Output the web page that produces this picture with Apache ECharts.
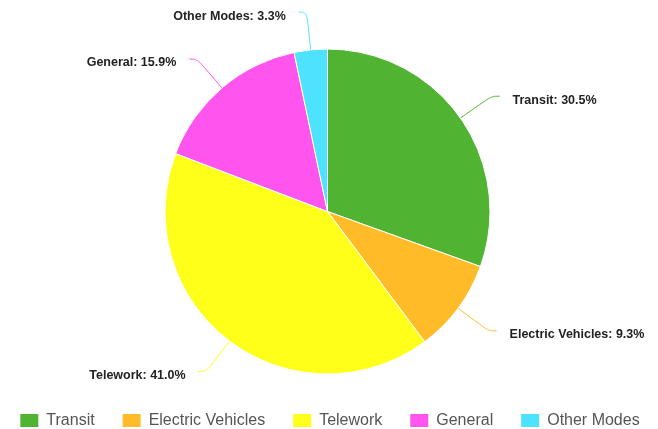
<!DOCTYPE html>
<html>
<head>
<meta charset="utf-8">
<script src="https://cdn.jsdelivr.net/npm/echarts@6/dist/echarts.min.js"></script>
<style>
html,body{margin:0;padding:0;background:#fff;}
#chart{width:658px;height:429px;}
</style>
</head>
<body>
<div id="chart"></div>
<script>
const categories = ['Transit', 'Electric Vehicles', 'Telework', 'General', 'Other Modes'];
const values = [30.5, 9.3, 41.0, 15.9, 3.3];
const colors = ['#50B432', '#FFBB28', '#FFFF1A', '#FF55EE', '#4DE3FF'];

const chart = echarts.init(document.getElementById('chart'));
chart.setOption({
  animation: false,
  color: colors,
  legend: {
    top: 412,
    left: 'center',
    padding: 0,
    icon: 'rect',
    itemWidth: 20,
    itemHeight: 15,
    itemGap: 26,
    textStyle: { fontFamily: 'Liberation Sans', fontSize: 16, color: '#555', padding: [0, 0, 0, 2] },
    data: categories
  },
  series: [{
    type: 'pie',
    center: [327.5, 211.5],
    radius: 162.5,
    startAngle: 90,
    clockwise: true,
    avoidLabelOverlap: false,
    itemStyle: { borderColor: '#fff', borderWidth: 1 },
    label: {
      formatter: p => p.name + ': ' + p.value.toFixed(1) + '%',
      fontFamily: 'Liberation Sans',
      fontWeight: 'bold',
      fontSize: 12.5,
      color: '#222',
      distanceToLabelLine: 13
    },
    labelLayout: { dy: 4 },
    labelLine: {
      length: 38,
      length2: 8,
      smooth: 0.4,
      lineStyle: { width: 1 }
    },
    data: categories.map((c, i) => ({ name: c, value: values[i] }))
  }]
});
</script>
</body>
</html>
